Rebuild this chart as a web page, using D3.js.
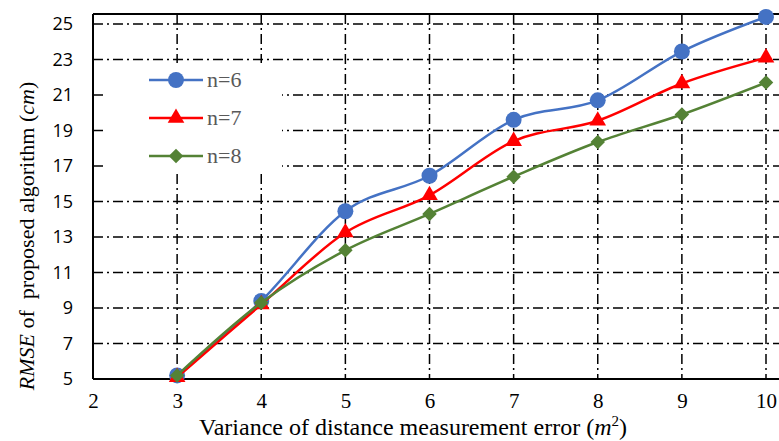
<!DOCTYPE html>
<html lang="en">
<head>
  <meta charset="UTF-8">
  <title>RMSE vs variance</title>
  <script src="https://d3js.org/d3.v7.min.js"></script>
</head>
<style>
  body{
    margin:0;
    background:white;
  }
  svg{
    display:block;
  }
</style>
<body>
  <div id="svg_area"></div>
</body>
<script>
// chart data
var variance = [3, 4, 5, 6, 7, 8, 9, 10];
var rmseN6 = [5.2, 9.4, 14.45, 16.45, 19.6, 20.7, 23.45, 25.4];
var rmseN7 = [5.1, 9.2, 13.25, 15.35, 18.4, 19.55, 21.65, 23.1];
var rmseN8 = [5.2, 9.3, 12.25, 14.3, 16.4, 18.35, 19.9, 21.7];
var seriesNames = ["n=6", "n=7", "n=8"];
var xTicks = [2, 3, 4, 5, 6, 7, 8, 9, 10];
var yTicks = [5, 7, 9, 11, 13, 15, 17, 19, 21, 23, 25];

var width = 779;
var height = 441;

var svg = d3.select("#svg_area").append("svg")
  .attr("width", width)
  .attr("height", height);

// scales
var xScale = d3.scaleLinear().domain([2, 10]).range([93, 766]);
var yScale = d3.scaleLinear().domain([5, 25]).range([379, 24]);
var plotTop = 14;
var plotRight = width;

// grid lines (dash-dot)
var grid = svg.append("g");
grid.selectAll("line.h")
  .data(yTicks.slice(1))
  .enter().append("line")
    .attr("x1", xScale(2))
    .attr("x2", plotRight)
    .attr("y1", function(d){return yScale(d);})
    .attr("y2", function(d){return yScale(d);})
    .attr("stroke", "black")
    .attr("stroke-width", 1.5)
    .attr("stroke-dasharray", "10,4,2,4");
grid.selectAll("line.v")
  .data(xTicks.slice(1))
  .enter().append("line")
    .attr("x1", function(d){return xScale(d);})
    .attr("x2", function(d){return xScale(d);})
    .attr("y1", plotTop)
    .attr("y2", yScale(5))
    .attr("stroke", "black")
    .attr("stroke-width", 1.5)
    .attr("stroke-dasharray", "10,4,2,4");

// legend background hides the grid behind it
svg.append("rect")
  .attr("x", 104).attr("y", 63)
  .attr("width", 178).attr("height", 110)
  .attr("fill", "white");

// frame
svg.append("line")
  .attr("x1", xScale(2)).attr("x2", plotRight)
  .attr("y1", plotTop).attr("y2", plotTop)
  .attr("stroke", "black").attr("stroke-width", 2);
svg.append("line")
  .attr("x1", xScale(2)).attr("x2", xScale(2))
  .attr("y1", plotTop).attr("y2", yScale(5))
  .attr("stroke", "black").attr("stroke-width", 2);

// axes
var xAxis = d3.axisBottom(xScale).tickValues(xTicks).tickSize(0).tickPadding(14);
var yAxis = d3.axisLeft(yScale).tickValues(yTicks).tickSize(0).tickPadding(20);

var gx = svg.append("g")
  .attr("transform", "translate(0," + yScale(5) + ")")
  .call(xAxis);
gx.select(".domain").remove();
gx.selectAll("text")
  .attr("font-family", "'Liberation Serif', serif")
  .attr("font-size", "21px")
  .attr("fill", "black");
svg.append("line")
  .attr("x1", xScale(2)).attr("x2", plotRight)
  .attr("y1", yScale(5)).attr("y2", yScale(5))
  .attr("stroke", "black").attr("stroke-width", 2);

var gy = svg.append("g")
  .attr("transform", "translate(" + xScale(2) + ",0)")
  .call(yAxis);
gy.select(".domain").remove();
gy.selectAll("text")
  .attr("font-family", "'Open Sans', sans-serif")
  .attr("font-size", "18px")
  .attr("fill", "black");

// axis titles
var xTitle = svg.append("text")
  .attr("x", 413)
  .attr("y", 435)
  .attr("text-anchor", "middle")
  .attr("font-family", "'Liberation Serif', serif")
  .attr("font-size", "24px")
  .attr("fill", "black");
xTitle.append("tspan").text("Variance of distance measurement error (");
xTitle.append("tspan").attr("font-style", "italic").text("m");
xTitle.append("tspan").attr("font-size", "15px").attr("dy", -9).text("2");
xTitle.append("tspan").attr("dy", 9).text(")");

var yTitle = svg.append("text")
  .attr("transform", "translate(34,236) rotate(-90)")
  .attr("text-anchor", "middle")
  .attr("font-family", "'Liberation Serif', serif")
  .attr("font-size", "22px")
  .attr("fill", "black")
  .style("white-space", "pre");
yTitle.append("tspan").attr("font-style", "italic").text("RMSE");
yTitle.append("tspan").text(" of  proposed algorithm (");
yTitle.append("tspan").attr("font-style", "italic").text("cm");
yTitle.append("tspan").text(")");

// series (diamond = square turned 45 degrees, like the spreadsheet marker)
var series = [
  {name: seriesNames[0], values: rmseN6, color: "#4472C4", symbol: d3.symbolCircle, size: 200, rot: 0},
  {name: seriesNames[1], values: rmseN7, color: "#FF0000", symbol: d3.symbolTriangle, size: 120, rot: 0},
  {name: seriesNames[2], values: rmseN8, color: "#548235", symbol: d3.symbolSquare, size: 105, rot: 45}
];

var line = d3.line()
  .x(function(d){return xScale(d[0]);})
  .y(function(d){return yScale(d[1]);})
  .curve(d3.curveCatmullRom.alpha(0));

series.forEach(function(s){
  var pts = variance.map(function(v, i){return [v, s.values[i]];});
  var g = svg.append("g");
  g.append("path")
    .datum(pts)
    .attr("d", line)
    .attr("fill", "none")
    .attr("stroke", s.color)
    .attr("stroke-width", 2.5);
  g.selectAll("path.m")
    .data(pts)
    .enter().append("path")
      .attr("transform", function(d){
        return "translate(" + xScale(d[0]) + "," + yScale(d[1]) + ") rotate(" + s.rot + ")";
      })
      .attr("d", d3.symbol().type(s.symbol).size(s.size))
      .attr("fill", s.color);
});

// legend
var legend = svg.append("g");
series.forEach(function(s, i){
  var ly = 80 + i * 38;
  legend.append("line")
    .attr("x1", 149).attr("x2", 203)
    .attr("y1", ly).attr("y2", ly)
    .attr("stroke", s.color)
    .attr("stroke-width", 2.5);
  legend.append("path")
    .attr("transform", "translate(176," + ly + ") rotate(" + s.rot + ")")
    .attr("d", d3.symbol().type(s.symbol).size(s.size))
    .attr("fill", s.color);
  legend.append("text")
    .attr("x", 207)
    .attr("y", ly + 7)
    .attr("font-family", "'Liberation Serif', serif")
    .attr("font-size", "22px")
    .attr("fill", "#595959")
    .text(s.name);
});
</script>
</html>
